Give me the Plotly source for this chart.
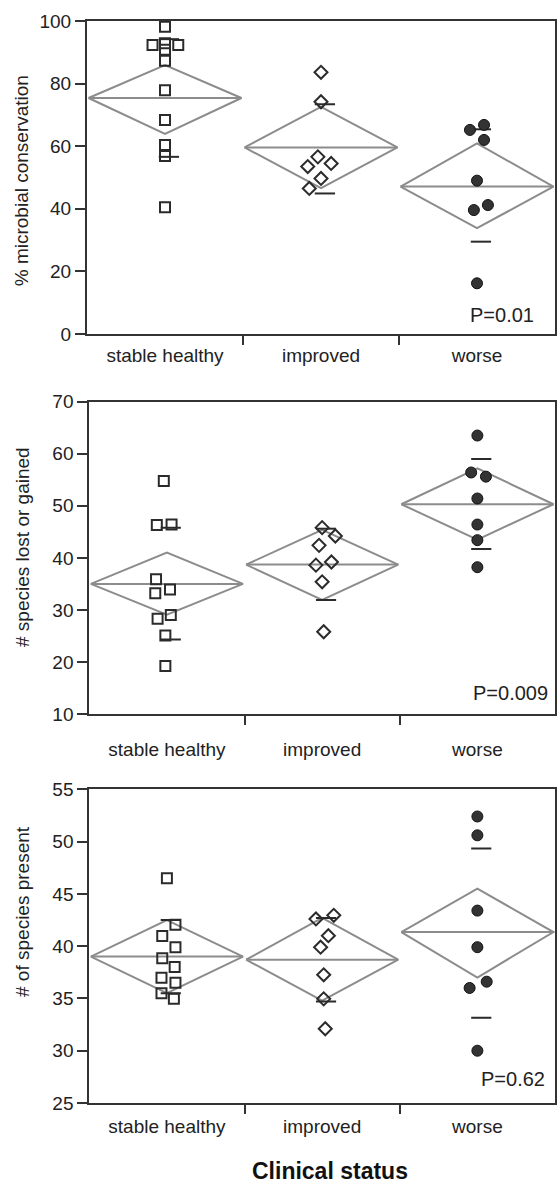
import plotly.graph_objects as go

# ---------------- data ----------------
groups = ["stable healthy", "improved", "worse"]

# Panel 1: % microbial conservation
p1_stable = [98.2, 92.3, 92.9, 92.3, 90.8, 87.3, 77.9, 68.4, 60.4, 56.9, 40.5]
p1_stable_jit = [0, -0.08, 0, 0.085, 0, 0, 0, 0, 0, 0, 0]
p1_improved = [83.6, 74.2, 56.6, 54.5, 53.5, 49.7, 46.5]
p1_improved_jit = [0, 0, -0.02, 0.065, -0.085, 0, -0.075]
p1_worse = [65.2, 66.8, 62.0, 49.0, 39.6, 41.2, 16.2]
p1_worse_jit = [-0.045, 0.045, 0.045, 0, -0.02, 0.07, 0]
p1_mean = [75.4, 59.6, 47.1]
p1_ci_hi = [85.9, 72.6, 60.9]
p1_ci_lo = [63.9, 46.6, 33.8]
p1_sd_hi = [94.2, 73.4, 65.4]
p1_sd_lo = [56.6, 44.9, 29.5]
p1_p = "P=0.01"

# Panel 2: # species lost or gained
p2_stable = [54.75, 46.3, 46.4, 35.9, 33.2, 33.9, 28.3, 29.0, 25.1, 19.2]
p2_stable_jit = [-0.02, -0.065, 0.03, -0.07, -0.075, 0.02, -0.06, 0.025, -0.01, -0.01]
p2_improved = [45.8, 44.2, 42.4, 38.6, 39.2, 35.4, 25.8]
p2_improved_jit = [0, 0.085, -0.02, -0.04, 0.06, 0, 0.01]
p2_worse = [63.5, 56.4, 55.6, 51.4, 46.4, 43.4, 38.2]
p2_worse_jit = [0, -0.04, 0.055, 0, 0, 0, 0]
p2_mean = [35.0, 38.7, 50.3]
p2_ci_hi = [41.0, 45.4, 57.2]
p2_ci_lo = [29.1, 31.9, 43.5]
p2_sd_hi = [45.8, 45.6, 59.0]
p2_sd_lo = [24.3, 31.9, 41.7]
p2_p = "P=0.009"

# Panel 3: # of species present
p3_stable = [46.5, 42.05, 40.97, 39.9, 38.85, 38.0, 36.97, 36.5, 35.5, 34.96]
p3_stable_jit = [0, 0.055, -0.03, 0.055, -0.03, 0.05, -0.035, 0.055, -0.035, 0.045]
p3_improved = [42.6, 42.95, 41.0, 39.9, 37.26, 34.96, 32.1]
p3_improved_jit = [-0.04, 0.075, 0.04, -0.01, 0.01, 0.01, 0.02]
p3_worse = [52.4, 50.6, 43.4, 39.9, 36.0, 36.6, 30.0]
p3_worse_jit = [0, 0, 0, 0, -0.05, 0.06, 0]
p3_mean = [39.0, 38.7, 41.35]
p3_ci_hi = [42.5, 42.7, 45.5]
p3_ci_lo = [35.5, 34.8, 37.0]
p3_sd_hi = [42.5, 42.7, 49.35]
p3_sd_lo = [35.5, 34.7, 33.15]
p3_p = "P=0.62"

y_titles = ["% microbial conservation", "# species lost or gained", "# of species present"]
y_ranges = [[0, 100], [10, 70], [25, 55]]
y_dticks = [20, 10, 5]
x_title = "Clinical status"

# ---------------- style ----------------
FONT = "Liberation Sans, Arial, sans-serif"
AX = "#333333"
GRAY = "#8c8c8c"
DARK = "#2b2b2b"

panels = [
    dict(pts=[(p1_stable, p1_stable_jit), (p1_improved, p1_improved_jit), (p1_worse, p1_worse_jit)],
         mean=p1_mean, ci_hi=p1_ci_hi, ci_lo=p1_ci_lo, sd_hi=p1_sd_hi, sd_lo=p1_sd_lo, p=p1_p),
    dict(pts=[(p2_stable, p2_stable_jit), (p2_improved, p2_improved_jit), (p2_worse, p2_worse_jit)],
         mean=p2_mean, ci_hi=p2_ci_hi, ci_lo=p2_ci_lo, sd_hi=p2_sd_hi, sd_lo=p2_sd_lo, p=p2_p),
    dict(pts=[(p3_stable, p3_stable_jit), (p3_improved, p3_improved_jit), (p3_worse, p3_worse_jit)],
         mean=p3_mean, ci_hi=p3_ci_hi, ci_lo=p3_ci_lo, sd_hi=p3_sd_hi, sd_lo=p3_sd_lo, p=p3_p),
]

# layout geometry (pixels)
W, H = 558, 1184
ML, MR, MT, MB = 87, 1, 21, 81
PH = H - MT - MB
PW = W - ML - MR

def py(pix):
    return (H - MB - pix) / PH

def px(pix):
    return (pix - ML) / PW

y_domains = [[py(334), 1.0], [py(714), py(401.7)], [0.0, py(789.3)]]
x_domains = [[0.0, 1.0], [px(89.3), 1.0], [px(89.3), 1.0]]
label_standoff = [3, 17, 5]
p_pos = [(538, 6.1), (552, 14.0), (549, 27.3)]  # right end px, y value
ytitle_pos = [181, 546.7, 911.7]

markers = [
    dict(symbol="square-open", size=10, color=DARK, line=dict(width=2, color=DARK)),
    dict(symbol="diamond-open", size=10, color=DARK, line=dict(width=2, color=DARK)),
    dict(symbol="circle", size=11, color="#333333", line=dict(width=1, color="#111111")),
]

fig = go.Figure()
annotations = []
HALF = 0.49

for i, pn in enumerate(panels):
    sfx = "" if i == 0 else str(i + 1)
    xa, ya = "x" + sfx, "y" + sfx
    # mean diamonds
    for g in range(3):
        m, hi, lo = pn["mean"][g], pn["ci_hi"][g], pn["ci_lo"][g]
        fig.add_trace(go.Scatter(
            x=[g - HALF, g, g + HALF, g, g - HALF], y=[m, hi, m, lo, m],
            mode="lines", line=dict(color=GRAY, width=2), xaxis=xa, yaxis=ya,
            showlegend=False, hoverinfo="skip"))
        fig.add_trace(go.Scatter(
            x=[g - HALF, g + HALF], y=[m, m],
            mode="lines", line=dict(color=GRAY, width=2), xaxis=xa, yaxis=ya,
            showlegend=False, hoverinfo="skip"))
    # SD dashes
    for g in range(3):
        for v in (pn["sd_hi"][g], pn["sd_lo"][g]):
            fig.add_trace(go.Scatter(
                x=[g - 0.04, g + 0.09], y=[v, v], mode="lines",
                line=dict(color=DARK, width=2), xaxis=xa, yaxis=ya,
                showlegend=False, hoverinfo="skip"))
    # points
    for g in range(3):
        vals, jit = pn["pts"][g]
        fig.add_trace(go.Scatter(
            x=[g + j for j in jit], y=vals, mode="markers",
            marker=markers[g], xaxis=xa, yaxis=ya, showlegend=False,
            name=groups[g]))

    xkey = "xaxis" + sfx
    ykey = "yaxis" + sfx
    fig.update_layout(**{
        xkey: dict(
            domain=x_domains[i], anchor=ya, range=[-0.5, 2.5],
            tickmode="array", tickvals=[0, 1, 2], ticktext=groups,
            ticks="", ticklabelstandoff=label_standoff[i],
            showline=True, linecolor=AX, linewidth=2, mirror=True,
            showgrid=False, zeroline=False,
            tickfont=dict(family=FONT, size=19, color="#222"),
            minor=dict(tickmode="array", tickvals=[0.5, 1.5], ticks="outside",
                       ticklen=9, tickwidth=2, tickcolor=AX, showgrid=False),
        ),
        ykey: dict(
            domain=y_domains[i], anchor=xa, range=y_ranges[i], dtick=y_dticks[i],
            tick0=y_ranges[i][0],
            ticks="outside", ticklen=10, tickwidth=2, tickcolor=AX,
            showline=True, linecolor=AX, linewidth=2, mirror=True,
            showgrid=False, zeroline=False,
            tickfont=dict(family=FONT, size=19, color="#222"),
        ),
    })
    # P value text
    rx, yv = p_pos[i]
    annotations.append(dict(
        x=px(rx), y=yv, xref="paper", yref=ya, text=pn["p"], showarrow=False,
        xanchor="right", yanchor="middle",
        font=dict(family=FONT, size=20, color="#222")))
    # y title
    annotations.append(dict(
        x=px(22), y=py(ytitle_pos[i]), xref="paper", yref="paper",
        text=y_titles[i], textangle=-90, showarrow=False,
        xanchor="center", yanchor="middle",
        font=dict(family=FONT, size=19, color="#222")))

annotations.append(dict(
    x=px(331), y=py(1171), xref="paper", yref="paper", text="<b>" + x_title + "</b>",
    showarrow=False, xanchor="center", yanchor="middle",
    font=dict(family=FONT, size=23, color="#111")))

fig.update_layout(
    width=W, height=H, margin=dict(l=ML, r=MR, t=MT, b=MB),
    paper_bgcolor="white", plot_bgcolor="white",
    annotations=annotations, showlegend=False,
)

fig.write_html(
    "out.html",
    config={"displayModeBar": False},
    post_script="document.body.style.margin='0';document.body.style.overflow='hidden';",
)
